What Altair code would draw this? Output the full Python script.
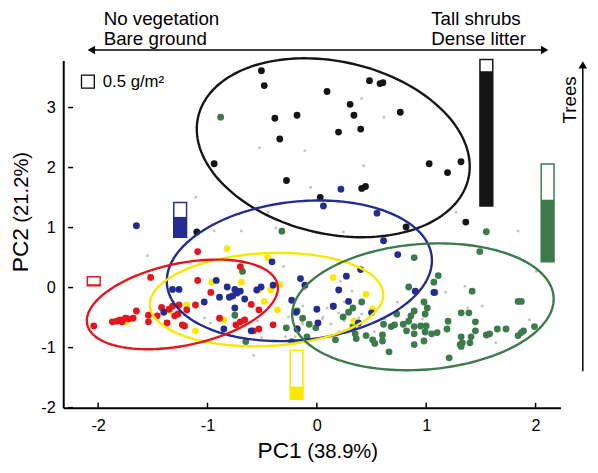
import altair as alt
import numpy as np
import pandas as pd

# ---------------- data (PC1, PC2 scores) ----------------
black_x = [-0.507, -0.481, -0.384, -0.181, -0.339, -0.939, -0.278, -1.098, 0.481, 0.578, 0.604, 0.093, 0.304,
           0.339, 0.198, 0.401, 0.763, 1.027, 1.195, 1.318, 0.410, 0.445, 0.031, 1.362, 0.816]
black_y = [3.613, 3.366, 2.822, 2.871, 2.476, 2.064, 1.784, 0.927, 3.448, 3.399, 3.415, 3.267, 3.053,
           2.871, 2.591, 2.641, 2.921, 2.064, 1.916, 2.097, 1.652, 1.685, 1.504, 1.092, 1.010]

green_x = [-0.88, -0.32, 1.55, 1.49, 0.89, 1.11, 1.07, 0.84, 1.08, 1.42, 1.84, 1.87, 0.98, 1.01, 0.99, 0.89,
           0.86, 0.84, 0.79, 0.73, 0.68, 0.61, 0.82, 0.89, 0.95, 0.89, 0.99, 1.05, 1.10, 1.20, 1.19, 1.32,
           1.39, 1.45, 1.45, 1.65, 1.73, 1.99, 1.89, 1.87, 1.84, 1.55, 1.58, 1.41, 1.32, 1.33, 1.31, 1.40,
           1.32, 1.21, 0.98, 0.89, 0.66, 0.60, 0.60, 0.53, 0.45, 0.36, 0.17, -0.09, -0.01, -0.07, 0.15, 0.33,
           0.41, 0.29, 0.33, -0.18, -0.18, -0.68, -0.75, -0.65, -0.13, -0.28, -0.23, 0.24, 0.51, 0.35, 0.71, 1.00]
green_y = [2.84, 0.94, 0.93, 0.60, 0.50, 0.20, 0.09, 0.01, -0.08, -0.06, -0.23, -0.23, -0.24, -0.34, -0.44, -0.39,
           -0.47, -0.56, -0.61, -0.44, -0.65, -0.61, -0.72, -0.65, -0.64, -0.77, -0.74, -0.77, -0.75, -0.56, -0.69, -0.42,
           -0.42, -0.57, -0.72, -0.69, -0.69, -0.65, -0.72, -0.75, -0.80, -0.79, -0.77, -0.82, -0.82, -0.92, -0.95, -0.92,
           -0.98, -1.17, -0.89, -0.95, -1.07, -0.89, -0.79, -0.93, -0.80, -0.85, -0.87, -0.82, -0.67, -0.61, -0.31, -0.34,
           -0.24, -0.41, -0.65, -0.39, -0.69, 0.27, -0.46, -0.90, -0.51, -0.67, -0.90, -0.49, -0.87, -0.77, -0.62, -0.64]

blue_x = [-1.65, 0.22, 0.06, 0.55, 0.61, 0.74, 0.40, -0.15, -0.11, 0.27, 0.20, 0.29, 0.00, 0.01, -0.18, 0.90,
          1.07, 0.50, 0.38, -0.41, -0.51, -0.55, -0.66, -0.40, 0.15, -0.60, -0.92, -0.82, -0.70, -0.73, -0.77,
          -0.80, -0.89, -1.03, -1.32, -1.26, -1.40, -0.75, -0.23, -0.19, -0.85, -0.75]
blue_y = [1.03, 1.64, 1.36, 1.24, 0.78, 0.55, 0.30, 0.15, 0.04, 0.19, -0.04, -0.23, -0.36, -0.59, -0.69, -0.06,
          -0.08, -0.42, -0.59, 0.43, 0.01, -0.04, -0.19, 0.04, -0.31, -0.72, 0.12, 0.01, -0.06, -0.09, -0.14,
          -0.16, -0.16, -0.24, -0.03, -0.03, -0.41, -0.34, -0.21, -0.41, -0.69, -0.03]

yellow_x = [-0.82, -0.45, -0.96, -0.69, -0.53, -0.42, -0.48, -0.34, -0.36, -1.19, -1.35, -0.85, -1.11,
            0.15, 0.45, 0.51, 0.34, -1.74]
yellow_y = [0.65, 0.50, 0.09, 0.09, -0.04, -0.04, -0.23, 0.05, -0.37, -0.29, -0.39, -0.54, -0.72,
            0.17, -0.11, -0.36, -0.56, -0.57]

red_x = [-1.09, -0.70, -1.52, -1.09, -0.97, -1.11, -2.04, -1.87, -1.80, -1.78, -1.75, -1.72, -1.68, -1.65,
         -1.54, -1.54, -1.46, -1.42, -1.37, -1.32, -1.30, -1.27, -1.26, -1.23, -1.21, -1.19, -0.89, -0.74,
         -0.66, -0.60, -0.53, -0.40, -0.58, -0.53, -0.70, -1.83, -1.35]
red_y = [0.60, 0.35, 0.17, 0.12, -0.08, -0.29, -0.64, -0.57, -0.54, -0.57, -0.51, -0.52, -0.51, -0.39,
         -0.46, -0.57, -0.47, -0.33, -0.59, -0.31, -0.47, -0.44, -0.29, -0.62, -0.64, -0.37, -0.51, -0.62,
         -0.54, -0.28, -0.37, -0.62, -0.72, -0.69, -0.57, -0.56, -0.36]

grey_x = [-0.525, -0.110, -1.107, -0.939, -0.692, -0.445, -0.057, -0.375, 0.410, 0.613, 0.428, 1.274, 1.839,
          0.243, -1.548, -0.304, -1.027, -0.974, -0.578, -0.507, -0.287, -0.110, 2.006, 1.354, 1.177, 1.380,
          1.512, 1.944, 1.636, 0.736, 0.622, 0.525, 0.322, 0.251, 0.093, 0.049, -0.128, -0.128, 0.207, 0.251,
          0.410, -0.066, 0.966, 0.216, 0.384, 0.198, 0.128, 0.057, -0.507, -0.542, -0.260, -0.137, -0.198,
          0.128, -0.084]
grey_y = [2.328, 2.278, 1.504, 0.944, 0.944, 1.257, 1.669, 0.993, 3.152, 2.838, 2.031, 1.257, 0.944,
          0.927, 0.532, 0.351, -0.506, -0.588, -1.132, -0.835, -0.819, -0.028, 0.269, 0.021, -0.077, -0.341,
          -0.308, -0.539, -0.918, -0.242, -0.522, -0.736, -0.061, -0.242, -0.341, -0.522, -0.308, -0.605, -0.736, -0.555,
          -0.440, -0.967, -0.522, 0.104, -0.506, -0.423, -0.605, -0.489, -0.407, -0.555, -0.489, -0.588, -0.819,
          -0.819, -0.802]

# group ellipses: centre, semi-axes (PC1 units), tilt in degrees
ell_group = ["black", "blue", "yellow", "red", "green"]
ell_cx = [0.15, -0.16, -0.46, -1.23, 0.97]
ell_cy = [2.33, 0.28, -0.20, -0.28, -0.32]
ell_a = [1.266, 1.217, 1.068, 0.888, 1.198]
ell_b = [0.773, 0.621, 0.416, 0.368, 0.563]
ell_angle = [-12.3, 5.9, 2.8, 11.5, 4.3]

# litter bars (g/m2)
bar_group = ["black", "green", "blue", "yellow", "red"]
bar_x = [1.55, 2.11, -1.25, -0.185, -2.04]
bar_base = [1.36, 0.43, 0.84, -1.86, 0.03]
bar_total = [5.71, 3.81, 1.35, 1.90, 0.35]
bar_filled = [5.25, 2.42, 0.79, 0.49, 0.06]

x_ticks = [-2, -1, 0, 1, 2]
y_ticks = [-2, -1, 0, 1, 2, 3]

# ---------------- styling ----------------
COLORS = {"black": "#151515", "green": "#3d7a4c", "blue": "#222c92",
          "yellow": "#fbe800", "red": "#e4161d", "grey": "#c4c4c4"}
FONT = "Liberation Sans"
X_DOMAIN = [-2.274, 2.182]
Y_DOMAIN = [-2.0, 3.785]
W, H = 504, 352
PXX = W / (X_DOMAIN[1] - X_DOMAIN[0])
PXY = H / (Y_DOMAIN[1] - Y_DOMAIN[0])
KEY_PX = 13  # pixel size of the 0.5 g/m2 key square
G2Y = (KEY_PX / 0.5) / PXY
DOT = 48

xs = alt.Scale(domain=X_DOMAIN, nice=False, zero=False)
ys = alt.Scale(domain=Y_DOMAIN, nice=False, zero=False)

X_AXIS = alt.Axis(values=x_ticks, tickSize=0, labelPadding=10, labelFontSize=16.5, labelColor="black",
                  domainColor="black", domainWidth=2, grid=False, title=None, labelExpr="'' + datum.value",
                  labelFont=FONT)
Y_AXIS = alt.Axis(values=y_ticks, tickSize=0, labelPadding=8, labelFontSize=16.5, labelColor="black",
                  domainColor="black", domainWidth=2, grid=False, title=None, labelExpr="'' + datum.value",
                  labelFont=FONT)


def X(field):
    return alt.X(field, scale=xs, axis=X_AXIS)


def Y(field):
    return alt.Y(field, scale=ys, axis=Y_AXIS)


def points(px, py, color, size):
    df = pd.DataFrame({"PC1": px, "PC2": py})
    return alt.Chart(df).mark_circle(size=size, opacity=1, color=color).encode(
        x=X("PC1:Q"), y=Y("PC2:Q"))


# ellipse outlines
rows = []
t = np.linspace(0, 2 * np.pi, 181)
for g, cx, cy, a, b, ang in zip(ell_group, ell_cx, ell_cy, ell_a, ell_b, ell_angle):
    phi = np.deg2rad(ang)
    ap, bp = a * PXX, b * PXX
    dx = ap * np.cos(t) * np.cos(phi) - bp * np.sin(t) * np.sin(phi)
    dy = ap * np.cos(t) * np.sin(phi) + bp * np.sin(t) * np.cos(phi)
    for i in range(len(t)):
        rows.append({"group": g, "order": i, "PC1": cx + dx[i] / PXX, "PC2": cy + dy[i] / PXY,
                     "color": COLORS[g]})
ell_df = pd.DataFrame(rows)
ellipses = alt.Chart(ell_df).mark_line(strokeWidth=2.4).encode(
    x=X("PC1:Q"), y=Y("PC2:Q"),
    detail="group:N",
    order="order:Q",
    color=alt.Color("color:N", scale=None),
)

bar_df = pd.DataFrame({
    "group": bar_group, "PC1": bar_x, "PC2": bar_base,
    "top_total": [b + v * G2Y for b, v in zip(bar_base, bar_total)],
    "top_fill": [b + v * G2Y for b, v in zip(bar_base, bar_filled)],
    "color": [COLORS[g] for g in bar_group],
})
bar_outline = alt.Chart(bar_df).mark_bar(size=13, orient="vertical", fill="white", strokeWidth=1.5).encode(
    x=X("PC1:Q"), y=Y("PC2:Q"), y2="top_total:Q",
    stroke=alt.Stroke("color:N", scale=None),
)
bar_fill = alt.Chart(bar_df).mark_bar(size=13, orient="vertical").encode(
    x=X("PC1:Q"), y=Y("PC2:Q"), y2="top_fill:Q",
    color=alt.Color("color:N", scale=None),
)

# inward ticks
xt_df = pd.DataFrame({"PC1": x_ticks, "PC2": [Y_DOMAIN[0]] * len(x_ticks)})
xt = alt.Chart(xt_df).mark_rule(color="black", strokeWidth=1.5, y2Offset=-5).encode(
    x=X("PC1:Q"), y=Y("PC2:Q"), y2="PC2:Q")
yt_df = pd.DataFrame({"PC2": y_ticks, "PC1": [X_DOMAIN[0]] * len(y_ticks)})
yt = alt.Chart(yt_df).mark_rule(color="black", strokeWidth=1.5, x2Offset=5).encode(
    y=Y("PC2:Q"), x=X("PC1:Q"), x2="PC1:Q")

one = pd.DataFrame({"a": [0]})


def label(text, x, y, size, align="left", angle=0, baseline="alphabetic"):
    return alt.Chart(one).mark_text(text=text, align=align, baseline=baseline, fontSize=size, font=FONT,
                                    color="black", angle=angle).encode(x=alt.value(x), y=alt.value(y))


def tri(shape, x, y):
    return alt.Chart(one).mark_point(shape=shape, filled=True, size=75, color="black", opacity=1).encode(
        x=alt.value(x), y=alt.value(y))


annotations = [
    label("No vegetation", 41, -35.5, 19),
    label("Bare ground", 41, -16, 19),
    label("Tall shrubs", 373, -35.5, 19),
    label("Dense litter", 373, -16, 19),
    alt.Chart(one).mark_rule(color="black", strokeWidth=1.5).encode(
        x=alt.value(28), x2=alt.value(488), y=alt.value(-10.5)),
    tri("triangle-left", 28.5, -10.5),
    tri("triangle-right", 488, -10.5),
    alt.Chart(one).mark_rule(color="black", strokeWidth=1.5).encode(
        x=alt.value(526.7), y=alt.value(6), y2=alt.value(315)),
    tri("triangle-up", 526.7, 4.5),
    label("Trees", 514, 40, 19, align="center", angle=270, baseline="middle"),
    alt.Chart(one).mark_point(shape="square", size=KEY_PX * KEY_PX, filled=False, color="black",
                              strokeWidth=1.3, opacity=1).encode(x=alt.value(25), y=alt.value(21.5)),
    label("0.5 g/m\u00b2", 40, 27.4, 17),
    label("PC2", -36, 214.7, 23, angle=270),
    label("(21.2%)", -36, 164.5, 20.5, angle=270),
    label("PC1", 241.7, 403, 23, align="right"),
    label("(38.9%)", 247.4, 403, 20.5),
]

chart = alt.layer(
    points(grey_x, grey_y, COLORS["grey"], 9),
    points(green_x, green_y, COLORS["green"], DOT),
    points(yellow_x, yellow_y, COLORS["yellow"], DOT),
    points(red_x, red_y, COLORS["red"], DOT),
    points(blue_x, blue_y, COLORS["blue"], DOT),
    points(black_x, black_y, COLORS["black"], DOT),
    ellipses,
    bar_outline,
    bar_fill,
    xt,
    yt,
    *annotations,
).properties(
    width=W, height=H,
    autosize=alt.AutoSizeParams(type="none"),
    padding={"left": 56, "top": 50, "right": 30, "bottom": 55},
).configure(font=FONT).configure_view(strokeWidth=0)

chart.save("out.html", embed_options={"renderer": "svg", "actions": False})
